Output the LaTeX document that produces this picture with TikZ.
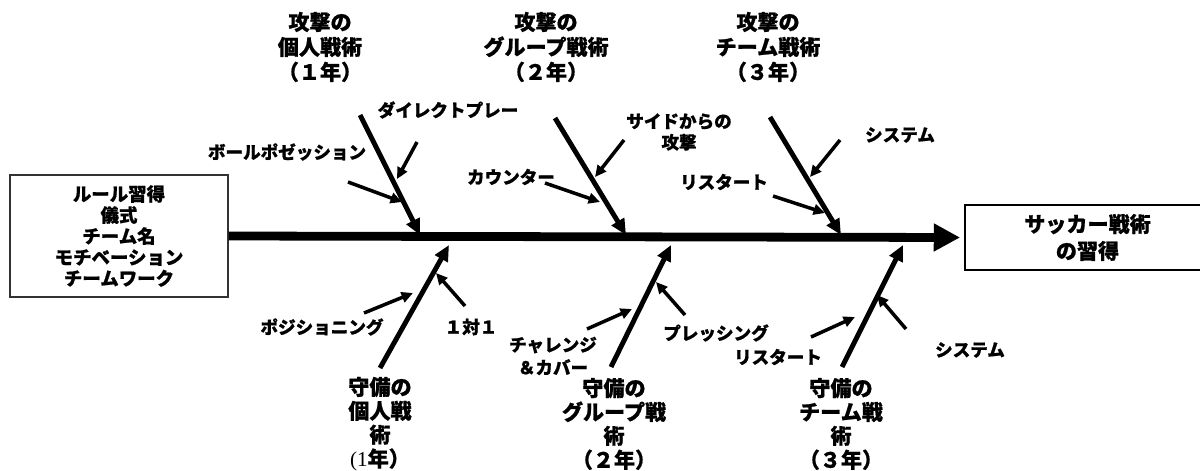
\documentclass[tikz,border=0pt]{standalone}
\usepackage{fontspec}
\setmainfont{Noto Sans CJK JP}[BoldFeatures={FakeBold=0.8}]
\newfontfamily\serifnum{Liberation Serif}
\usetikzlibrary{arrows.meta}
\tikzset{
  head/.style={font=\fontsize{12}{14.2}\selectfont\bfseries, align=center, inner sep=0pt},
  foot/.style={font=\fontsize{12}{13.6}\selectfont\bfseries, align=center, inner sep=0pt},
  sub/.style={font=\fontsize{10}{12.5}\selectfont\bfseries, align=center, inner sep=0pt},
  bone/.style={line width=2.8pt, -{Triangle[length=9pt,width=8pt]}},
  twig/.style={line width=2pt, -{Triangle[length=6.5pt,width=6pt]}},
  spine/.style={line width=5pt, -{Triangle[length=15pt,width=15pt]}},
  causebox/.style={draw=black!80, line width=0.8pt, minimum width=4.36cm, minimum height=2.44cm,
    font=\fontsize{10.5}{12}\selectfont\bfseries, align=center, inner sep=0pt},
  effectbox/.style={draw=black, line width=1.6pt, minimum width=4.9cm, minimum height=1.3cm,
    font=\fontsize{12}{15.3}\selectfont\bfseries, align=center, inner sep=0pt}
}
\begin{document}
\begin{tikzpicture}[x=0.02cm, y=-0.02cm]
\useasboundingbox (0,0) rectangle (1200,470);
% boxes
\node[causebox] (lbox) at (119,236) {ルール習得\\儀式\\チーム名\\モチベーション\\チームワーク};
\node[effectbox] (rbox) at (1087.5,237.5) {サッカー戦術\\の習得};
\draw[spine] (lbox.east) -- ([xshift=-2pt]rbox.west);
% headings
\node[head] (h1) at (320,47) {攻撃の\\個人戦術\\（１年）};
\node[head] (h2) at (546,47) {攻撃の\\グループ戦術\\（２年）};
\node[head] (h3) at (768,47) {攻撃の\\チーム戦術\\（３年）};
\node[foot] (f1) at (380,424) {守備の\\個人戦\\術\\{\serifnum\mdseries (1}年）};
\node[foot] (f2) at (614,424) {守備の\\グループ戦\\術\\（２年）};
\node[foot] (f3) at (841,424) {守備の\\チーム戦\\術\\（３年）};
% sub labels
\node[sub] (s1) at (287,152) {ボールポゼッション};
\node[sub] (s2) at (448,110) {ダイレクトプレー};
\node[sub] (s3) at (511,177) {カウンター};
\node[sub, font=\fontsize{10}{12}\selectfont\bfseries] (s4) at (679,132) {サイドからの\\攻撃};
\node[sub] (s5) at (724,182) {リスタート};
\node[sub] (s6) at (900,135) {システム};
\node[sub] (s7) at (322,327) {ポジショニング};
\node[sub] (s8) at (471,327) {１対１};
\node[sub, font=\fontsize{10}{13}\selectfont\bfseries] (s9) at (553,356) {チャレンジ\\＆カバー};
\node[sub] (s10) at (716,333) {プレッシング};
\node[sub] (s11) at (778,357) {リスタート};
\node[sub] (s12) at (970,350) {システム};
% bone coordinates
\coordinate (a1s) at (360,115); \coordinate (a1e) at (420,235);
\coordinate (a2s) at (555,118); \coordinate (a2e) at (626,235);
\coordinate (a3s) at (770,117); \coordinate (a3e) at (841,235);
\coordinate (d1s) at (380,368); \coordinate (d1e) at (449,245);
\coordinate (d2s) at (611,367); \coordinate (d2e) at (671,245);
\coordinate (d3s) at (842,367); \coordinate (d3e) at (903,245);
\draw[bone] (a1s) -- (a1e);
\draw[bone] (a2s) -- (a2e);
\draw[bone] (a3s) -- (a3e);
\draw[bone] (d1s) -- (d1e);
\draw[bone] (d2s) -- (d2e);
\draw[bone] (d3s) -- (d3e);
% twigs
\coordinate (t1s) at (348,182); \coordinate (t1e) at (402,202);
\coordinate (t2s) at (417,142); \coordinate (t2e) at (397,179);
\coordinate (t3s) at (545,183); \coordinate (t3e) at (600,202);
\coordinate (t4s) at (624,140); \coordinate (t4e) at (595,177);
\coordinate (t5s) at (773,196); \coordinate (t5e) at (825,213);
\coordinate (t6s) at (840,140); \coordinate (t6e) at (810,177);
\coordinate (t7s) at (364,313); \coordinate (t7e) at (413,293);
\coordinate (t8s) at (465,306); \coordinate (t8e) at (436,273);
\coordinate (t9s) at (587,329); \coordinate (t9e) at (632,309);
\coordinate (t10s) at (685,315); \coordinate (t10e) at (656,282);
\coordinate (t11s) at (811,337); \coordinate (t11e) at (855,317);
\coordinate (t12s) at (906,329); \coordinate (t12e) at (877,295);
\foreach \i in {1,...,12} { \draw[twig] (t\i s) -- (t\i e); }
\end{tikzpicture}
\end{document}
